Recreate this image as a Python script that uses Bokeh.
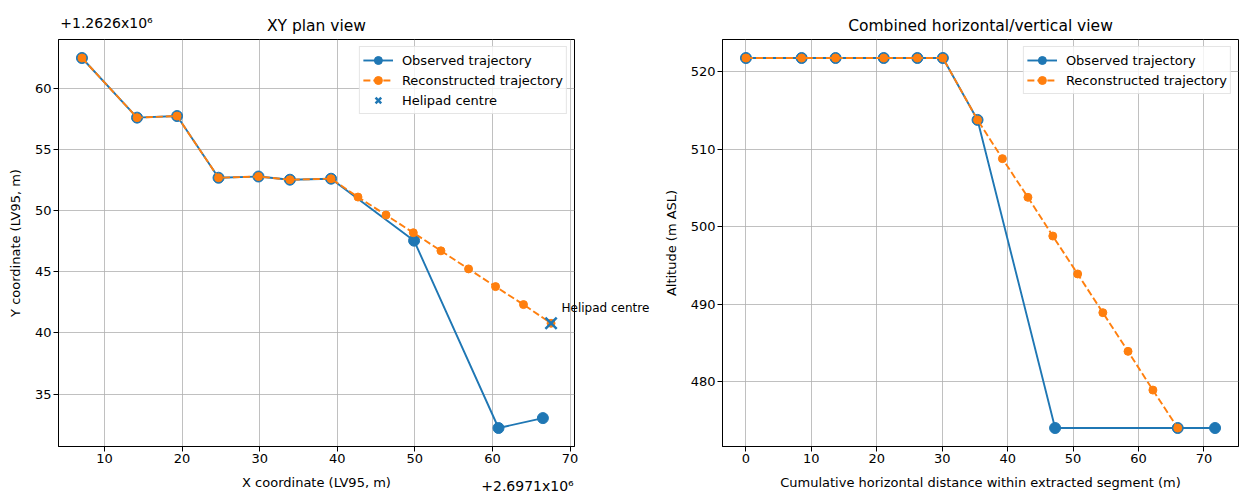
from bokeh.plotting import figure
from bokeh.layouts import row
from bokeh.models import (Range1d, FixedTicker, LinearAxis, Title,
                          CustomJSTickFormatter)
from bokeh.embed import file_html
from bokeh.resources import INLINE

# ---------------- data ----------------
X_BASE = 2697100.0
Y_BASE = 1262600.0

obs_x = [2697107.10, 2697114.20, 2697119.36, 2697124.70, 2697129.85, 2697133.90,
         2697139.20, 2697149.90, 2697160.78, 2697166.50]
obs_y = [1262662.50, 1262657.62, 1262657.75, 1262652.70, 1262652.80, 1262652.54,
         1262652.62, 1262647.55, 1262632.22, 1262633.03]

rec_x = [2697107.10, 2697114.20, 2697119.36, 2697124.70, 2697129.85, 2697133.90,
         2697139.20, 2697142.67, 2697146.28, 2697149.80, 2697153.36, 2697156.92,
         2697160.40, 2697164.00, 2697167.55]
rec_y = [1262662.50, 1262657.62, 1262657.75, 1262652.70, 1262652.80, 1262652.54,
         1262652.62, 1262651.12, 1262649.65, 1262648.20, 1262646.72, 1262645.24,
         1262643.79, 1262642.32, 1262640.79]

helipad_x = 2697167.55
helipad_y = 1262640.79

obs_dist = [0.0, 8.51, 13.70, 21.06, 26.20, 30.10, 35.40, 47.25, 66.00, 71.70]
obs_alt = [521.8, 521.8, 521.8, 521.8, 521.8, 521.8, 513.8, 474.0, 474.0, 474.0]

rec_dist = [0.0, 8.51, 13.70, 21.06, 26.20, 30.10, 35.40, 39.20, 43.10, 46.90,
            50.70, 54.55, 58.40, 62.20, 66.00]
rec_alt = [521.8, 521.8, 521.8, 521.8, 521.8, 521.8, 513.8, 508.8, 503.8, 498.8,
           493.9, 488.9, 483.9, 478.9, 474.0]

x_ticks_xy = [10, 20, 30, 40, 50, 60, 70]
y_ticks_xy = [35, 40, 45, 50, 55, 60]
x_ticks_alt = [0, 10, 20, 30, 40, 50, 60, 70]
y_ticks_alt = [480, 490, 500, 510, 520]

x_offset_text = "+2.6971x10\u2076"
y_offset_text = "+1.2626x10\u2076"
helipad_text = "Helipad centre"

# ---------------- layout constants ----------------
H = 496
TOP = 39
BOTTOM = 44
L_W, L_LEFT, L_RIGHT = 652, 58, 78
R_W, R_LEFT, R_RIGHT = 587, 70, 1
FRAME_H = H - TOP - BOTTOM
L_FRAME_W = L_W - L_LEFT - L_RIGHT

BLUE = "#1f77b4"
ORANGE = "#ff7f0e"
FONT = "DejaVu Sans"


def bounds(vals):
    lo, hi = min(vals), max(vals)
    m = (hi - lo) * 0.05
    return lo - m, hi + m


def style(p):
    for ax in p.axis:
        ax.axis_label_text_font = FONT
        ax.axis_label_text_font_size = "13px"
        ax.axis_label_text_font_style = "normal"
        ax.axis_label_text_color = "black"
        ax.major_label_text_font = FONT
        ax.major_label_text_font_size = "13px"
        ax.major_label_text_color = "black"
        ax.axis_line_color = "black"
        ax.major_tick_line_color = "black"
        ax.major_tick_out = 5
        ax.major_tick_in = 0
        ax.minor_tick_line_color = None
        ax.major_label_standoff = 2
        ax.axis_label_standoff = 9
    for g in p.grid:
        g.grid_line_color = "#b0b0b0"
        g.grid_line_width = 0.8
    p.outline_line_color = "black"
    p.outline_line_width = 1
    p.outline_line_alpha = 1
    p.background_fill_color = "white"
    p.border_fill_color = "white"
    p.title.text = ""
    p.title.standoff = 0


def add_title(p, text):
    p.add_layout(Title(text=text, align="center", text_font=FONT, text_font_size="15.5px",
                       text_font_style="normal", text_color="black", standoff=10), "above")


def text_axis(text, tick, standoff, size="13px"):
    ax = LinearAxis(ticker=FixedTicker(ticks=[tick]),
                    formatter=CustomJSTickFormatter(code="return %r;" % text))
    ax.axis_line_color = None
    ax.major_tick_line_color = None
    ax.minor_tick_line_color = None
    ax.major_tick_out = 0
    ax.major_tick_in = 0
    ax.major_label_standoff = standoff
    ax.major_label_text_font = FONT
    ax.major_label_text_font_size = size
    ax.major_label_text_color = "black"
    return ax


def style_legend(p):
    leg = p.legend[0]
    leg.location = "top_right"
    leg.label_text_font = FONT
    leg.label_text_font_size = "13px"
    leg.label_text_color = "black"
    leg.border_line_color = "#cccccc"
    leg.border_line_width = 1
    leg.background_fill_alpha = 0.8
    leg.padding = 3
    leg.spacing = 0
    leg.margin = 7
    leg.glyph_width = 30
    leg.glyph_height = 20
    leg.label_height = 20
    leg.label_standoff = 9


# ---------------- XY plan view ----------------
ox = [v - X_BASE for v in obs_x]
oy = [v - Y_BASE for v in obs_y]
rx = [v - X_BASE for v in rec_x]
ry = [v - Y_BASE for v in rec_y]
hx = helipad_x - X_BASE
hy = helipad_y - Y_BASE

x0, x1 = bounds(ox + rx + [hx])
y0, y1 = bounds(oy + ry + [hy])
ppx = L_FRAME_W / (x1 - x0)
ppy = FRAME_H / (y1 - y0)

left = figure(width=L_W, height=H,
              x_range=Range1d(x0, x1), y_range=Range1d(y0, y1),
              min_border_left=L_LEFT, min_border_right=L_RIGHT, min_border_top=TOP,
              min_border_bottom=BOTTOM, output_backend="svg", toolbar_location=None,
              x_axis_label="X coordinate (LV95, m)", y_axis_label="Y coordinate (LV95, m)")
left.xaxis.ticker = FixedTicker(ticks=x_ticks_xy)
left.yaxis.ticker = FixedTicker(ticks=y_ticks_xy)

left.line(ox, oy, color=BLUE, line_width=1.9, legend_label="Observed trajectory")
left.scatter(ox, oy, size=11, color=BLUE, legend_label="Observed trajectory")
left.line(rx, ry, color=ORANGE, line_width=1.9, line_dash="7 3",
          legend_label="Reconstructed trajectory")
left.scatter(rx, ry, size=8, color=ORANGE, legend_label="Reconstructed trajectory")
left.scatter([hx], [hy], marker="x", size=16, line_color=BLUE, line_width=2.5,
             legend_label="Helipad centre")
style(left)
style_legend(left)
add_title(left, "XY plan view")
# matplotlib-style offset texts and the helipad annotation (axis labels are never clipped)
left.add_layout(text_axis(y_offset_text, x0 + 48 / ppx, -21, "14px"), "above")
left.add_layout(text_axis(x_offset_text, x1 - 47 / ppx, -15, "14px"), "below")
left.add_layout(text_axis(helipad_text, hy + 15.3 / ppy, -13, "12px"), "right")

# ---------------- Combined horizontal/vertical view ----------------
dx0, dx1 = bounds(obs_dist + rec_dist)
ay0, ay1 = bounds(obs_alt + rec_alt)
right = figure(width=R_W, height=H,
               x_range=Range1d(dx0, dx1), y_range=Range1d(ay0, ay1),
               min_border_left=R_LEFT, min_border_right=R_RIGHT, min_border_top=TOP,
               min_border_bottom=BOTTOM, output_backend="svg", toolbar_location=None,
               x_axis_label="Cumulative horizontal distance within extracted segment (m)",
               y_axis_label="Altitude (m ASL)")
right.xaxis.ticker = FixedTicker(ticks=x_ticks_alt)
right.yaxis.ticker = FixedTicker(ticks=y_ticks_alt)

right.line(obs_dist, obs_alt, color=BLUE, line_width=1.9, legend_label="Observed trajectory")
right.scatter(obs_dist, obs_alt, size=11, color=BLUE, legend_label="Observed trajectory")
right.line(rec_dist, rec_alt, color=ORANGE, line_width=1.9, line_dash="7 3",
           legend_label="Reconstructed trajectory")
right.scatter(rec_dist, rec_alt, size=8, color=ORANGE, legend_label="Reconstructed trajectory")
style(right)
style_legend(right)
add_title(right, "Combined horizontal/vertical view")

layout = row(left, right)
open("out.html", "w").write(file_html(layout, INLINE))
